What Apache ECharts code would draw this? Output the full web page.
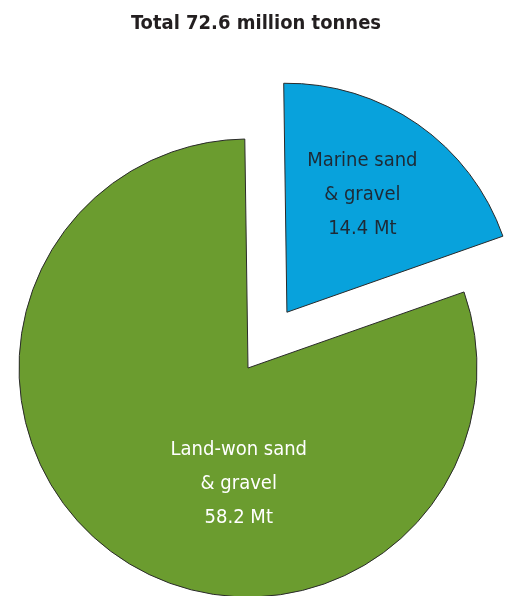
<!DOCTYPE html>
<html>
<head>
<meta charset="utf-8">
<script src="https://cdn.jsdelivr.net/npm/echarts@6/dist/echarts.min.js"></script>
<style>html,body{margin:0;padding:0;background:#fff}#c{width:509px;height:596px}</style>
</head>
<body>
<div id="c"></div>
<script>
const titleText = 'Total 72.6 million tonnes';
const categories = ['Marine sand\n& gravel', 'Land-won sand\n& gravel'];
const values = [14.4, 58.2];
const unit = 'Mt';
const colors = ['#08a2dc', '#6b9c2f'];
const labelColors = ['#1e2a36', '#ffffff'];
const labelOffsets = [[-31, -3], [58, 19]];

const FONT = '"DejaVu Sans Condensed", "Liberation Sans Narrow", "Liberation Sans", sans-serif';
const chart = echarts.init(document.getElementById('c'), null, {renderer: 'canvas'});
chart.setOption({
  animation: false,
  title: {
    text: titleText,
    left: 251, top: 9, textAlign: 'center',
    textStyle: {fontFamily: FONT, fontWeight: 'bold', fontSize: 20, color: '#231f20'}
  },
  series: [{
    type: 'pie',
    center: [248, 368],
    radius: [0, 229],
    startAngle: 90.8,
    clockwise: true,
    avoidLabelOverlap: false,
    selectedMode: 'single',
    selectedOffset: 68,
    silent: true,
    labelLine: {show: false},
    itemStyle: {borderColor: '#2a2a2a', borderWidth: 1},
    data: categories.map((c, i) => {
      const lbl = {
        show: true,
        position: 'inside',
        offset: labelOffsets[i],
        formatter: c + '\n' + values[i].toFixed(1) + ' ' + unit,
        color: labelColors[i],
        fontFamily: FONT,
        fontSize: 20,
        lineHeight: 34,
        align: 'center'
      };
      return {
        name: c,
        value: values[i],
        selected: i === 0,
        itemStyle: {color: colors[i]},
        label: lbl,
        select: {label: Object.assign({}, lbl), itemStyle: {color: colors[i], borderColor: '#2a2a2a', borderWidth: 1}}
      };
    })
  }]
});
</script>
</body>
</html>
